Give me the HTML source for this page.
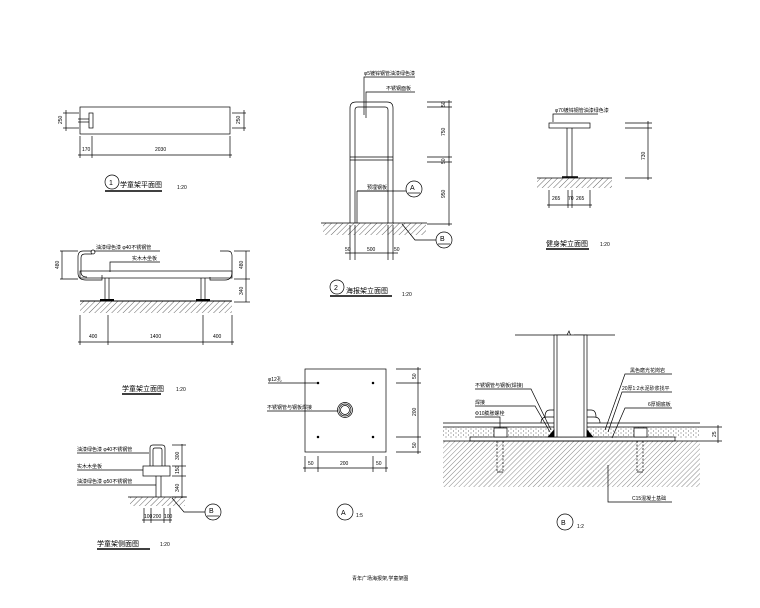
<!DOCTYPE html>
<html><head><meta charset="utf-8"><style>
html,body{margin:0;padding:0;background:#fff;}
svg{display:block;}
text{font-family:"Liberation Sans","Noto Sans CJK SC",sans-serif;fill:#000;}
.s{font-size:5px;} .m{font-size:7px;} .t{font-size:8px;}
</style></head><body>
<svg width="760" height="608" viewBox="0 0 760 608" xmlns="http://www.w3.org/2000/svg" stroke="#000" stroke-width="0.7" fill="none">
<defs>
<pattern id="h" width="4" height="4" patternUnits="userSpaceOnUse" patternTransform="rotate(45)">
<line x1="0" y1="0" x2="0" y2="4" stroke="#000" stroke-width="0.6"/></pattern>
<pattern id="h2" width="3.5" height="3.5" patternUnits="userSpaceOnUse" patternTransform="rotate(45)">
<line x1="0" y1="0" x2="0" y2="3.5" stroke="#111" stroke-width="0.5"/></pattern>
<pattern id="dots" width="5" height="4" patternUnits="userSpaceOnUse">
<circle cx="1" cy="1" r="0.5" fill="#444" stroke="none"/><circle cx="3.5" cy="3" r="0.5" fill="#444" stroke="none"/></pattern>
</defs>

<!-- View 1 plan -->
<rect x="80" y="107" width="150" height="27"/>
<rect x="89" y="113" width="4" height="15"/>
<line x1="78" y1="119" x2="89" y2="119"/><line x1="78" y1="122" x2="89" y2="122"/>
<line x1="63" y1="113" x2="79" y2="113"/><line x1="63" y1="128" x2="79" y2="128"/><line x1="66" y1="110" x2="66" y2="131"/>
<line x1="232" y1="113" x2="246" y2="113"/><line x1="232" y1="128" x2="246" y2="128"/><line x1="244" y1="110" x2="244" y2="131"/>
<text class="s" stroke="none" transform="translate(62,124) rotate(-90)">250</text>
<text class="s" stroke="none" transform="translate(240,124) rotate(-90)">250</text>
<line x1="80" y1="136" x2="80" y2="158"/><line x1="92" y1="136" x2="92" y2="158"/><line x1="230" y1="136" x2="230" y2="158"/>
<line x1="78" y1="155" x2="232" y2="155"/>
<text class="s" stroke="none" x="82" y="151">170</text><text class="s" stroke="none" x="155" y="151">2030</text>
<circle cx="112" cy="182" r="7"/><text class="m" stroke="none" x="109" y="185">1</text>
<text class="m" stroke="none" x="120" y="187">学童架平面图</text>
<line x1="105" y1="191" x2="162" y2="191" stroke-width="1.4"/>
<text class="s" stroke="none" x="177" y="189">1:20</text>

<!-- View 2 poster stand -->
<path d="M350 223 V108 Q350 102 356 102 H387 Q393 102 393 108 V223"/>
<path d="M355 223 V110 Q355 107 358 107 H385 Q388 107 388 110 V223"/>
<line x1="350" y1="157" x2="393" y2="157"/><line x1="350" y1="160" x2="393" y2="160"/>
<line x1="357" y1="191" x2="388" y2="191"/><line x1="357" y1="191" x2="357" y2="223"/>
<rect x="323" y="223" width="103" height="12" fill="url(#h)" stroke="none"/>
<line x1="321" y1="223" x2="427" y2="223"/>
<line x1="350" y1="225" x2="350" y2="260"/><line x1="355" y1="225" x2="355" y2="260"/><line x1="388" y1="225" x2="388" y2="260"/><line x1="393" y1="225" x2="393" y2="260"/>
<line x1="345" y1="253" x2="398" y2="253"/>
<text class="s" stroke="none" x="345" y="251">50</text><text class="s" stroke="none" x="367" y="251">500</text><text class="s" stroke="none" x="394" y="251">50</text>
<line x1="449" y1="100" x2="449" y2="226"/>
<g><line x1="427" y1="102" x2="452" y2="102"/><line x1="427" y1="107" x2="452" y2="107"/><line x1="427" y1="157" x2="452" y2="157"/><line x1="427" y1="162" x2="452" y2="162"/><line x1="427" y1="224" x2="452" y2="224"/></g>
<text class="s" stroke="none" transform="translate(445,136) rotate(-90)">750</text>
<text class="s" stroke="none" transform="translate(445,198) rotate(-90)">950</text>
<text class="s" stroke="none" transform="translate(445,107) rotate(-90)">50</text>
<text class="s" stroke="none" transform="translate(445,164) rotate(-90)">50</text>
<polyline points="364,115 364,77 415,77"/><text class="s" stroke="none" x="364" y="75">φ5镀锌钢管油漆绿色漆</text>
<polyline points="366,118 366,92 415,92"/><text class="s" stroke="none" x="386" y="90">不锈钢面板</text>
<line x1="357" y1="191" x2="406" y2="191"/><text class="s" stroke="none" x="367" y="189">预埋钢板</text>
<circle cx="414" cy="189" r="8"/><text class="m" stroke="none" x="410" y="190">A</text><line x1="408" y1="193" x2="420" y2="193"/>
<polyline points="402,224 415,240 436,240"/>
<circle cx="444" cy="240" r="8"/><text class="m" stroke="none" x="440" y="241">B</text><line x1="438" y1="244" x2="450" y2="244"/>
<circle cx="337" cy="287" r="7"/><text class="m" stroke="none" x="334" y="290">2</text>
<text class="m" stroke="none" x="346" y="293">海报架立面图</text>
<line x1="330" y1="296" x2="392" y2="296" stroke-width="1.4"/>
<text class="s" stroke="none" x="402" y="296">1:20</text>

<!-- View 3 seat elevation -->
<path d="M92 251 H83 Q78 251 78 257 V273 Q78 280 86 280 H102 V275"/>
<path d="M92 254 H85 Q81 254 81 258 V272 Q81 277 87 277"/>
<circle cx="93" cy="252" r="2"/>
<rect x="80" y="271" width="152" height="7"/>
<path d="M220 251 H228 Q232 251 232 256 V272 Q232 280 225 280 H210 V277"/>
<line x1="105" y1="278" x2="105" y2="301"/><line x1="109" y1="278" x2="109" y2="301"/>
<line x1="201" y1="278" x2="201" y2="301"/><line x1="205" y1="278" x2="205" y2="301"/>
<rect x="80" y="301" width="152" height="12" fill="url(#h)" stroke="none"/>
<line x1="80" y1="301" x2="232" y2="301" stroke-width="1"/>
<line x1="100" y1="300" x2="114" y2="300" stroke-width="2"/><line x1="196" y1="300" x2="210" y2="300" stroke-width="2"/>
<line x1="80" y1="315" x2="80" y2="345"/><line x1="108" y1="315" x2="108" y2="345"/><line x1="203" y1="315" x2="203" y2="345"/><line x1="232" y1="315" x2="232" y2="345"/>
<line x1="78" y1="342" x2="234" y2="342"/>
<text class="s" stroke="none" x="89" y="338">400</text><text class="s" stroke="none" x="150" y="338">1400</text><text class="s" stroke="none" x="213" y="338">400</text>
<line x1="62" y1="251" x2="62" y2="279"/><line x1="60" y1="251" x2="78" y2="251"/><line x1="60" y1="279" x2="78" y2="279"/>
<text class="s" stroke="none" transform="translate(59,269) rotate(-90)">480</text>
<line x1="246" y1="251" x2="246" y2="302"/><line x1="234" y1="251" x2="250" y2="251"/><line x1="234" y1="279" x2="250" y2="279"/><line x1="234" y1="302" x2="250" y2="302"/>
<text class="s" stroke="none" transform="translate(243,269) rotate(-90)">480</text>
<text class="s" stroke="none" transform="translate(243,295) rotate(-90)">340</text>
<line x1="94" y1="251" x2="160" y2="251"/><text class="s" stroke="none" x="96" y="249">油漆绿色漆 φ40不锈钢管</text>
<polyline points="110,272 110,262 160,262"/><text class="s" stroke="none" x="132" y="260">实木木坐板</text>
<text class="m" stroke="none" x="122" y="391">学童架立面图</text>
<line x1="122" y1="394" x2="161" y2="394" stroke-width="1.4"/>
<text class="s" stroke="none" x="176" y="391">1:20</text>

<!-- View 4 side -->
<path d="M150 466 V448 Q150 445 153 445 H162 Q165 445 165 448 V466"/>
<path d="M153 466 V450 Q153 448 155 448 H160 Q162 448 162 450 V466"/>
<rect x="143" y="466" width="27" height="10"/>
<line x1="156" y1="476" x2="156" y2="497"/><line x1="161" y1="476" x2="161" y2="497"/>
<rect x="130" y="497" width="55" height="9" fill="url(#h)" stroke="none"/>
<line x1="128" y1="497" x2="187" y2="497"/>
<line x1="182" y1="444" x2="182" y2="498"/><line x1="172" y1="445" x2="186" y2="445"/><line x1="172" y1="466" x2="186" y2="466"/><line x1="172" y1="476" x2="186" y2="476"/><line x1="172" y1="497" x2="186" y2="497"/>
<text class="s" stroke="none" transform="translate(179,460) rotate(-90)">300</text>
<text class="s" stroke="none" transform="translate(179,474) rotate(-90)">150</text>
<text class="s" stroke="none" transform="translate(179,492) rotate(-90)">340</text>
<line x1="144" y1="508" x2="144" y2="523"/><line x1="151" y1="508" x2="151" y2="523"/><line x1="164" y1="508" x2="164" y2="523"/><line x1="170" y1="508" x2="170" y2="523"/>
<line x1="142" y1="520" x2="172" y2="520"/>
<text class="s" stroke="none" x="144" y="518">100</text><text class="s" stroke="none" x="153" y="518">200</text><text class="s" stroke="none" x="164" y="518">100</text>
<line x1="77" y1="453" x2="149" y2="453"/><text class="s" stroke="none" x="77" y="451">油漆绿色漆   φ40不锈钢管</text>
<line x1="77" y1="470" x2="143" y2="470"/><text class="s" stroke="none" x="77" y="468">实木木坐板</text>
<line x1="77" y1="485" x2="156" y2="485"/><text class="s" stroke="none" x="77" y="483">油漆绿色漆   φ50不锈钢管</text>
<polyline points="172,498 184,512 205,512"/>
<circle cx="213" cy="512" r="8"/><text class="m" stroke="none" x="209" y="513">B</text><line x1="207" y1="516" x2="219" y2="516"/>
<text class="m" stroke="none" x="97" y="546">学童架侧面图</text>
<line x1="97" y1="549" x2="150" y2="549" stroke-width="1.4"/>
<text class="s" stroke="none" x="160" y="546">1:20</text>

<!-- View A -->
<rect x="305" y="369" width="81" height="83"/>
<circle cx="318" cy="383" r="0.9" fill="#000"/><circle cx="373" cy="383" r="0.9" fill="#000"/><circle cx="318" cy="437" r="0.9" fill="#000"/><circle cx="373" cy="437" r="0.9" fill="#000"/>
<circle cx="345" cy="410" r="7.5"/><circle cx="345" cy="410" r="6"/><circle cx="345" cy="410" r="4.5"/>
<line x1="268" y1="383" x2="318" y2="383"/><text class="s" stroke="none" x="268" y="381">φ12孔</text>
<line x1="267" y1="411" x2="338" y2="411"/><text class="s" stroke="none" x="267" y="409">不锈钢管与钢板焊接</text>
<line x1="418" y1="367" x2="418" y2="454"/>
<line x1="396" y1="369" x2="421" y2="369"/><line x1="396" y1="383" x2="421" y2="383"/><line x1="396" y1="437" x2="421" y2="437"/><line x1="396" y1="452" x2="421" y2="452"/>
<text class="s" stroke="none" transform="translate(416,379) rotate(-90)">50</text>
<text class="s" stroke="none" transform="translate(416,416) rotate(-90)">200</text>
<text class="s" stroke="none" transform="translate(416,448) rotate(-90)">50</text>
<line x1="305" y1="456" x2="305" y2="472"/><line x1="318" y1="456" x2="318" y2="472"/><line x1="373" y1="456" x2="373" y2="472"/><line x1="386" y1="456" x2="386" y2="472"/>
<line x1="303" y1="468" x2="388" y2="468"/>
<text class="s" stroke="none" x="308" y="465">50</text><text class="s" stroke="none" x="340" y="465">200</text><text class="s" stroke="none" x="376" y="465">50</text>
<circle cx="345" cy="512" r="8"/><text class="m" stroke="none" x="341" y="515">A</text>
<text class="s" stroke="none" x="356" y="517">1:5</text>

<!-- View 5 fitness -->
<rect x="549" y="123" width="41" height="5"/>
<line x1="567" y1="128" x2="567" y2="178"/><line x1="572" y1="128" x2="572" y2="178"/>
<rect x="537" y="178" width="75" height="10" fill="url(#h)" stroke="none"/>
<line x1="537" y1="178" x2="612" y2="178"/>
<line x1="562" y1="177" x2="578" y2="177" stroke-width="1.5"/>
<polyline points="553,122 553,114 598,114"/><text class="s" stroke="none" x="555" y="112">φ70镀锌钢管油漆绿色漆</text>
<line x1="625" y1="123" x2="652" y2="123"/><line x1="625" y1="128" x2="652" y2="128"/><line x1="625" y1="178" x2="652" y2="178"/>
<line x1="648" y1="121" x2="648" y2="180"/>
<text class="s" stroke="none" transform="translate(645,160) rotate(-90)">730</text>
<line x1="549" y1="190" x2="549" y2="208"/><line x1="568" y1="190" x2="568" y2="208"/><line x1="572" y1="190" x2="572" y2="208"/><line x1="590" y1="190" x2="590" y2="208"/>
<line x1="547" y1="205" x2="592" y2="205"/>
<text class="s" stroke="none" x="552" y="200">265</text><text class="s" stroke="none" x="568" y="200">70</text><text class="s" stroke="none" x="576" y="200">265</text>
<text class="m" stroke="none" x="546" y="246">健身架立面图</text>
<line x1="546" y1="249" x2="589" y2="249" stroke-width="1.4"/>
<text class="s" stroke="none" x="600" y="246">1:20</text>

<!-- View B -->
<line x1="515" y1="335" x2="567" y2="335"/><polyline points="567,335 569,331 572,339 574,335"/><line x1="574" y1="335" x2="615" y2="335"/>
<rect x="443" y="427" width="257" height="11" fill="url(#dots)" stroke="none"/>
<rect x="443" y="441" width="257" height="46" fill="url(#h2)" stroke="none"/>
<line x1="443" y1="423" x2="700" y2="423"/><line x1="443" y1="427" x2="700" y2="427"/>
<rect x="470" y="437" width="205" height="4"/>
<line x1="443" y1="441" x2="700" y2="441"/>
<rect x="554" y="335" width="33" height="102" fill="#fff"/>
<line x1="557" y1="335" x2="557" y2="437"/><line x1="584" y1="335" x2="584" y2="437"/>
<path d="M554 437 L548 437 L554 430 Z" fill="#000"/><path d="M587 437 L593 437 L587 430 Z" fill="#000"/>
<path d="M541 423 Q541 417 547 417 H554 M545 417 Q545 410 550 410 H554"/>
<path d="M600 423 Q600 417 594 417 H587 M596 417 Q596 410 591 410 H587"/>
<rect x="494" y="428" width="13" height="9" fill="#fff"/><rect x="634" y="428" width="13" height="9" fill="#fff"/>
<g stroke-dasharray="2,1.5"><line x1="497" y1="441" x2="497" y2="472"/><line x1="503" y1="441" x2="503" y2="472"/><line x1="637" y1="441" x2="637" y2="472"/><line x1="643" y1="441" x2="643" y2="472"/></g>
<line x1="497" y1="472" x2="503" y2="472"/><line x1="637" y1="472" x2="643" y2="472"/>
<polyline points="475,389 531,389 551,430"/><text class="s" stroke="none" x="475" y="387">不锈钢管与钢板(焊接)</text>
<polyline points="475,406 535,406 550,432"/><text class="s" stroke="none" x="475" y="404">焊接</text>
<polyline points="475,417 500,417 500,428"/><text class="s" stroke="none" x="475" y="415">Φ10膨胀螺栓</text>
<polyline points="672,374 625,374 605,430"/><text class="s" stroke="none" x="630" y="372">黑色磨光花岗岩</text>
<polyline points="672,392 622,392 608,432"/><text class="s" stroke="none" x="622" y="390">20厚1:2水泥砂浆找平</text>
<polyline points="672,408 625,408 612,438"/><text class="s" stroke="none" x="648" y="406">6厚钢底板</text>
<polyline points="608,465 608,502 672,502"/><text class="s" stroke="none" x="632" y="500">C15混凝土基础</text>
<line x1="700" y1="427" x2="722" y2="427"/><line x1="700" y1="441" x2="722" y2="441"/><line x1="718" y1="425" x2="718" y2="443"/>
<text class="s" stroke="none" transform="translate(716,437) rotate(-90)">25</text>
<circle cx="565" cy="522" r="8"/><text class="m" stroke="none" x="561" y="525">B</text>
<text class="s" stroke="none" x="577" y="528">1:2</text>

<text class="s" stroke="none" x="352" y="580">青年广场海报架,学童架图</text>
</svg>
</body></html>
